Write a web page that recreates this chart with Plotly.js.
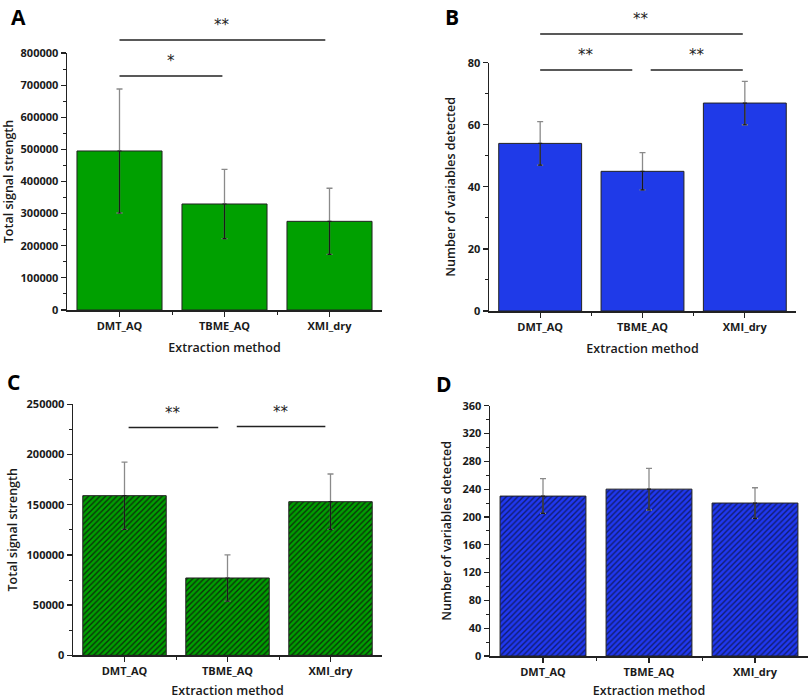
<!DOCTYPE html>
<html>
<head>
<meta charset="utf-8">
<script src="https://cdn.plot.ly/plotly-3.0.1.min.js"></script>
<style>html,body{margin:0;padding:0;background:#fff;}#chart{width:810px;height:699px;}</style>
</head>
<body>
<div id="chart"></div>
<script>
// ---- data ----
const categories = ['DMT_AQ', 'TBME_AQ', 'XMI_dry'];
const signalA = [495000, 330000, 276000];
const signalAErr = [193000, 108000, 103000];
const variablesB = [54, 45, 67];
const variablesBErr = [7, 6, 7];
const signalC = [159000, 77000, 153000];
const signalCErr = [33500, 23000, 27600];
const variablesD = [230, 240, 220];
const variablesDErr = [25, 30, 22];
const panelLetters = ['A', 'B', 'C', 'D'];
const yTitles = ['Total signal strength', 'Number of variables detected', 'Total signal strength', 'Number of variables detected'];
const xTitle = 'Extraction method';
// significance brackets: [from category, to category, label]
const sigA = [[0, 1.96, '**'], [0, 0.98, '*']];
const sigB = [[0, 1.98, '**'], [0, 0.9, '**'], [1.08, 1.98, '**']];
const sigC = [[0.04, 0.91, '**'], [1.09, 1.95, '**']];

// ---- layout helpers ----
const W = 810, H = 699;
const px = v => v / W, py = v => 1 - v / H;
const panels = [
  {x: [67, 382], y: [53, 310], range: [0, 800000], dtick: 100000, vals: signalA, err: signalAErr, color: '#00a000', pat: null, sig: sigA, sigY: [40, 76], ys: 12},
  {x: [489, 796], y: [62.7, 311], range: [0, 80], dtick: 20, vals: variablesB, err: variablesBErr, color: '#1f3ae8', pat: null, sig: sigB, sigY: [34, 70, 70], ys: 9},
  {x: [73, 382], y: [404.3, 655.3], range: [0, 250000], dtick: 50000, vals: signalC, err: signalCErr, color: '#00a000', pat: '#0b300b', sig: sigC, sigY: [427.5, 426.5], ys: 6},
  {x: [490, 808], y: [405.7, 656], range: [0, 360], dtick: 40, vals: variablesD, err: variablesDErr, color: '#2038f0', pat: '#101c70', sig: [], sigY: [], ys: 8}
];
const letterPos = [[9, 1], [443, 1], [5, 366], [434, 368]];
const tickFont = {family: 'Open Sans, sans-serif', size: 11, color: '#1a1a1a', weight: 700};
const titleFont = {family: 'Open Sans, sans-serif', size: 12.5, color: '#1a1a1a', weight: 600};

const traces = [];
const layout = {
  width: W, height: H, margin: {l: 0, r: 0, t: 0, b: 0},
  paper_bgcolor: '#fff', plot_bgcolor: '#fff', showlegend: false,
  bargap: 0.19, shapes: [], annotations: []
};

panels.forEach((p, i) => {
  const n = i === 0 ? '' : String(i + 1);
  const xa = 'xaxis' + n, ya = 'yaxis' + n;
  const xr = 'x' + n, yr = 'y' + n;
  const xs = categories.map((c, k) => k);
  const marker = {color: p.color, line: {color: '#222', width: 1}};
  if (p.pat) marker.pattern = {shape: '/', fgcolor: p.pat, bgcolor: p.color, size: 4, solidity: 0.35};
  traces.push({
    type: 'bar', x: xs, y: p.vals, xaxis: xr, yaxis: yr,
    marker: marker, width: 0.81,
    error_y: {type: 'data', array: p.err, visible: true, color: '#8a8a8a', thickness: 1.3, width: 3},
    hoverinfo: 'y'
  });
  // darker lower half of the error bar, drawn over the bar body
  traces.push({
    type: 'scatter', mode: 'markers', x: xs, y: p.vals, xaxis: xr, yaxis: yr,
    marker: {size: 1, color: 'rgba(0,0,0,0)'},
    error_y: {type: 'data', symmetric: false, array: p.vals.map(() => 0), arrayminus: p.err, visible: true, color: '#1a1a1a', thickness: 1.2, width: 2},
    hoverinfo: 'skip'
  });
  layout[xa] = {
    domain: [px(p.x[0]), px(p.x[1])], anchor: yr, range: [-0.5, 2.5],
    tickmode: 'array', tickvals: [0, 1, 2], ticktext: categories,
    ticks: 'outside', ticklen: 5, tickwidth: 1.2, tickcolor: '#222',
    minor: {tickmode: 'array', tickvals: [0.5, 1.5], ticks: 'outside', ticklen: 3, tickcolor: '#222', tickwidth: 1},
    showline: true, linecolor: '#222', linewidth: 1.5, showgrid: false, zeroline: false,
    tickfont: tickFont, fixedrange: true,
    title: {text: xTitle, font: titleFont, standoff: 11}
  };
  layout[ya] = {
    domain: [py(p.y[1]), py(p.y[0])], anchor: xr, range: p.range,
    tickmode: 'linear', tick0: 0, dtick: p.dtick, tickformat: 'd',
    ticks: 'outside', ticklen: 5, tickwidth: 1.2, tickcolor: '#222',
    minor: {dtick: p.dtick / 2, ticks: 'outside', ticklen: 3, tickcolor: '#222', tickwidth: 1},
    showline: true, linecolor: '#222', linewidth: 1.5, showgrid: false, zeroline: false,
    tickfont: tickFont, fixedrange: true,
    title: {text: yTitles[i], font: titleFont, standoff: p.ys}
  };
  const catX = c => px(p.x[0] + (c + 0.5) / 3 * (p.x[1] - p.x[0]));
  p.sig.forEach((s, k) => {
    const yy = py(p.sigY[k]);
    layout.shapes.push({type: 'line', xref: 'paper', yref: 'paper', x0: catX(s[0]), x1: catX(s[1]), y0: yy, y1: yy, line: {color: '#222', width: 1.5}});
    layout.annotations.push({xref: 'paper', yref: 'paper', x: (catX(s[0]) + catX(s[1])) / 2, y: yy + 4 / H, yanchor: 'bottom', xanchor: 'center', text: s[2], showarrow: false, font: {family: 'DejaVu Sans, sans-serif', size: 15, color: '#222'}});
  });
  layout.annotations.push({xref: 'paper', yref: 'paper', x: px(letterPos[i][0]), y: py(letterPos[i][1]), xanchor: 'left', yanchor: 'top', text: '<b>' + panelLetters[i] + '</b>', showarrow: false, font: {family: 'Open Sans, sans-serif', size: 21, color: '#000'}});
});

Plotly.newPlot('chart', traces, layout, {staticPlot: true});
</script>
</body>
</html>
